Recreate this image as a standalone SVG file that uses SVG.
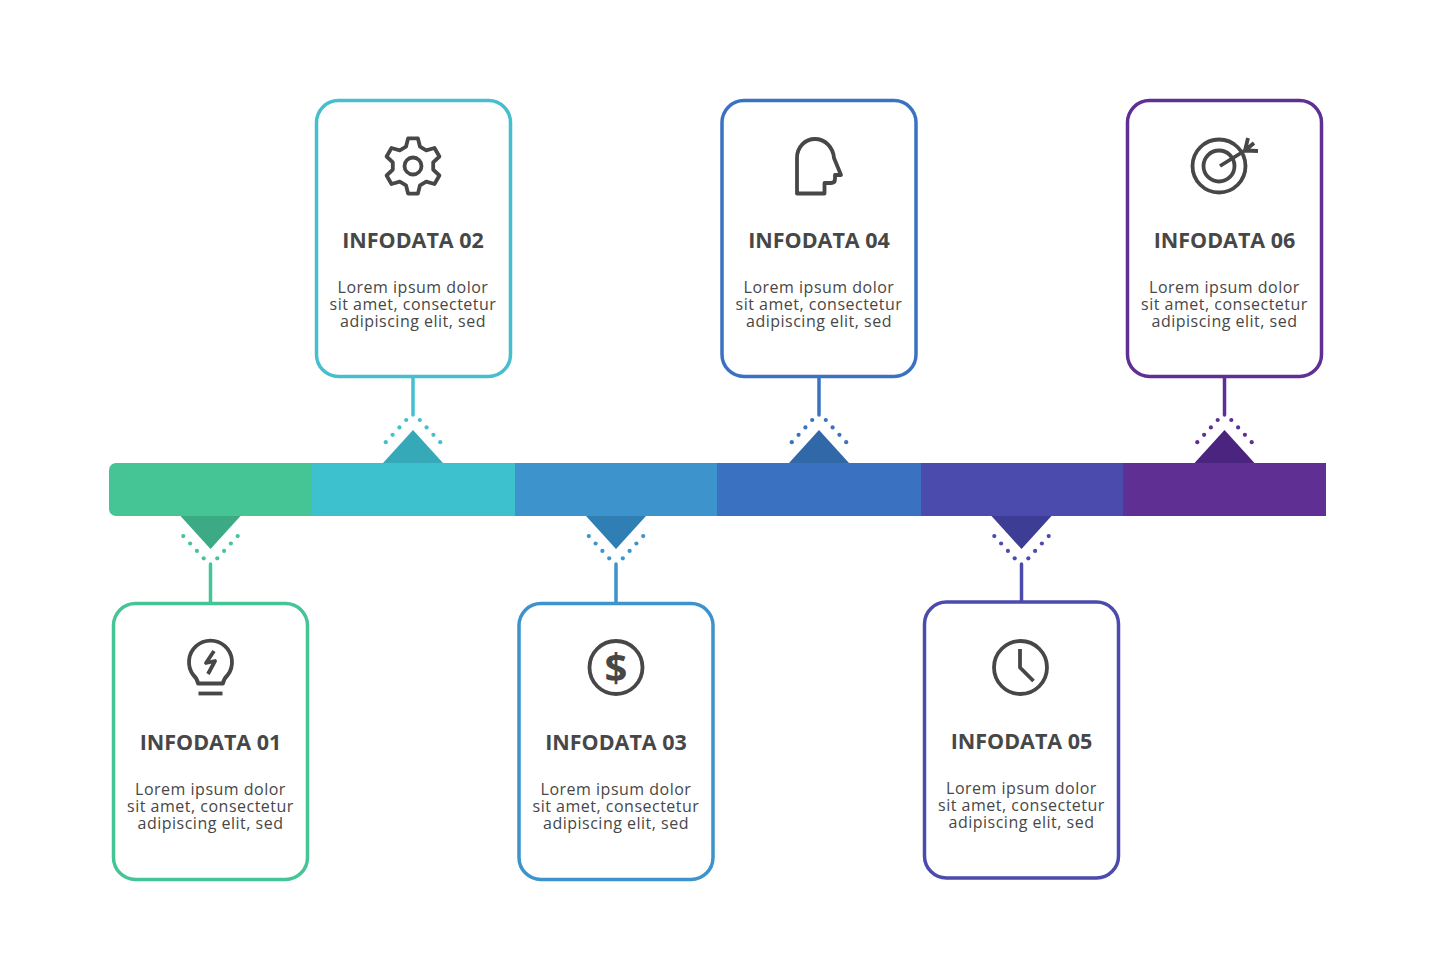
<svg xmlns="http://www.w3.org/2000/svg" width="1435" height="980" viewBox="0 0 1435 980">
<style>
.card{fill:#fff;stroke-width:3.5}
.t{font-family:"Open Sans",sans-serif;font-size:21.5px;font-weight:700;fill:#474747;text-anchor:middle}
.b{font-family:"Open Sans",sans-serif;font-size:16px;letter-spacing:.5px;fill:#474747;text-anchor:middle}
.i{fill:none;stroke:#474747;stroke-width:3.8;stroke-linejoin:round}
.stem{stroke-width:3.5;stroke-linecap:round;fill:none}
.c1{stroke:#45C596;fill:#45C596}.c2{stroke:#45BFCE;fill:#45BFCE}.c3{stroke:#3D93CB;fill:#3D93CB}.c4{stroke:#3A72C1;fill:#3A72C1}.c5{stroke:#4B4BAD;fill:#4B4BAD}.c6{stroke:#5F2F94;fill:#5F2F94}
</style>
<defs>
<g id="dots-up" stroke="none"><circle cx="-6.8" cy="0" r="2.1"/><circle cx="6.8" cy="0" r="2.1"/><circle cx="-13.6" cy="7.4" r="2.1"/><circle cx="13.6" cy="7.4" r="2.1"/><circle cx="-20.4" cy="14.8" r="2.1"/><circle cx="20.4" cy="14.8" r="2.1"/><circle cx="-27.2" cy="22.2" r="2.1"/><circle cx="27.2" cy="22.2" r="2.1"/></g>
<g id="dots-down" stroke="none"><circle cx="-6.8" cy="0" r="2.1"/><circle cx="6.8" cy="0" r="2.1"/><circle cx="-13.6" cy="-7.4" r="2.1"/><circle cx="13.6" cy="-7.4" r="2.1"/><circle cx="-20.4" cy="-14.8" r="2.1"/><circle cx="20.4" cy="-14.8" r="2.1"/><circle cx="-27.2" cy="-22.2" r="2.1"/><circle cx="27.2" cy="-22.2" r="2.1"/></g>
</defs>
<rect width="1435" height="980" fill="#fff"/>
<g id="bar">
<path d="M312 463H116a7 7 0 0 0-7 7v39a7 7 0 0 0 7 7H312Z" fill="#45C596"/>
<rect x="312" y="463" width="203" height="53" fill="#3EC1CE"/>
<rect x="515" y="463" width="202" height="53" fill="#3D93CB"/>
<rect x="717" y="463" width="204" height="53" fill="#3A72C1"/>
<rect x="921" y="463" width="202" height="53" fill="#4B4BAD"/>
<rect x="1123" y="463" width="203" height="53" fill="#5F2F94"/>
<polygon points="180.500,516 240.500,516 210.500,549" fill="#3BAA85"/>
<polygon points="383,463 443,463 413,430" fill="#35A9B8"/>
<polygon points="586,516 646,516 616,549" fill="#2F7FB5"/>
<polygon points="789,463 849,463 819,430" fill="#3168A8"/>
<polygon points="991.500,516 1051.500,516 1021.500,549" fill="#3D3D96"/>
<polygon points="1194.500,463 1254.500,463 1224.500,430" fill="#4B2480"/>
</g>
<g id="connectors">
<line class="stem c1" x1="210.500" y1="564" x2="210.500" y2="604"/><use href="#dots-down" class="c1" x="210.500" y="558.300"/>
<line class="stem c2" x1="413" y1="376" x2="413" y2="415"/><use href="#dots-up" class="c2" x="413" y="420"/>
<line class="stem c3" x1="616" y1="564" x2="616" y2="604"/><use href="#dots-down" class="c3" x="616" y="558.300"/>
<line class="stem c4" x1="819" y1="376" x2="819" y2="415"/><use href="#dots-up" class="c4" x="819" y="420"/>
<line class="stem c5" x1="1021.500" y1="564" x2="1021.500" y2="603"/><use href="#dots-down" class="c5" x="1021.500" y="558.300"/>
<line class="stem c6" x1="1224.500" y1="376" x2="1224.500" y2="415"/><use href="#dots-up" class="c6" x="1224.500" y="420"/>
</g>
<g id="node-01">
<rect class="card" x="113.500" y="603.500" width="194" height="276" rx="22" stroke="#45C596"/>
<path class="i" d="M198 683.500Q197.500 679 193.300 675A21.500 21.500 0 1 1 227.700 675Q223.500 679 223 683.500Z"/>
<line class="i" x1="198.500" y1="693.500" x2="222.500" y2="693.500"/>
<polyline class="i" points="214,651 206,663 215,661 208,674"/>
<text class="t" x="210.500" y="750">INFODATA 01</text>
<text class="b" y="795"><tspan x="210.500">Lorem ipsum dolor</tspan><tspan x="210.500" dy="17">sit amet, consectetur</tspan><tspan x="210.500" dy="17">adipiscing elit, sed</tspan></text>
</g>
<g id="node-02">
<rect class="card" x="316.500" y="100.500" width="194" height="276" rx="22" stroke="#45BFCE"/>
<polygon class="i" transform="translate(413 166)" points="-7,-19.300 -4.900,-27.600 4.900,-27.600 7,-19.300 13.200,-15.700 21.500,-18 26.400,-9.500 20.200,-3.600 20.200,3.600 26.400,9.500 21.500,18 13.200,15.700 7,19.300 4.900,27.600 -4.900,27.600 -7,19.300 -13.200,15.700 -21.500,18 -26.400,9.500 -20.200,3.600 -20.200,-3.600 -26.400,-9.500 -21.500,-18 -13.200,-15.700"/>
<circle class="i" cx="413" cy="166" r="8.500"/>
<text class="t" x="413" y="248">INFODATA 02</text>
<text class="b" y="293"><tspan x="413">Lorem ipsum dolor</tspan><tspan x="413" dy="17">sit amet, consectetur</tspan><tspan x="413" dy="17">adipiscing elit, sed</tspan></text>
</g>
<g id="node-03">
<rect class="card" x="519" y="603.500" width="194" height="276" rx="22" stroke="#3D93CB"/>
<circle class="i" cx="616" cy="667.500" r="26.500"/>
<text x="616" y="682" font-family="'Open Sans',sans-serif" font-size="40" font-weight="700" fill="#474747" text-anchor="middle">$</text>
<text class="t" x="616" y="750">INFODATA 03</text>
<text class="b" y="795"><tspan x="616">Lorem ipsum dolor</tspan><tspan x="616" dy="17">sit amet, consectetur</tspan><tspan x="616" dy="17">adipiscing elit, sed</tspan></text>
</g>
<g id="node-04">
<rect class="card" x="722" y="100.500" width="194" height="276" rx="22" stroke="#3A72C1"/>
<path class="i" d="M797 193.500V158C797 147 805 139 815 139C825 139 833 147 834 158L841 175H835V179Q835 183 831 183H824.500V193.500Z"/>
<text class="t" x="819" y="248">INFODATA 04</text>
<text class="b" y="293"><tspan x="819">Lorem ipsum dolor</tspan><tspan x="819" dy="17">sit amet, consectetur</tspan><tspan x="819" dy="17">adipiscing elit, sed</tspan></text>
</g>
<g id="node-05">
<rect class="card" x="924.500" y="602" width="194" height="276" rx="22" stroke="#4B4BAD"/>
<circle class="i" cx="1020.500" cy="667.500" r="26.500"/>
<polyline class="i" points="1020,649 1020,667.500 1033.500,681"/>
<text class="t" x="1021.500" y="749">INFODATA 05</text>
<text class="b" y="794"><tspan x="1021.500">Lorem ipsum dolor</tspan><tspan x="1021.500" dy="17">sit amet, consectetur</tspan><tspan x="1021.500" dy="17">adipiscing elit, sed</tspan></text>
</g>
<g id="node-06">
<rect class="card" x="1127.500" y="100.500" width="194" height="276" rx="22" stroke="#5F2F94"/>
<circle class="i" cx="1219" cy="166" r="26.500"/>
<circle class="i" cx="1219" cy="166" r="15.500"/>
<path class="i" d="M1220 166L1245 150.500M1245 150.500L1248 138M1245 150.500L1258 151M1245 150.500L1254 143"/>
<text class="t" x="1224.500" y="248">INFODATA 06</text>
<text class="b" y="293"><tspan x="1224.500">Lorem ipsum dolor</tspan><tspan x="1224.500" dy="17">sit amet, consectetur</tspan><tspan x="1224.500" dy="17">adipiscing elit, sed</tspan></text>
</g>
</svg>
